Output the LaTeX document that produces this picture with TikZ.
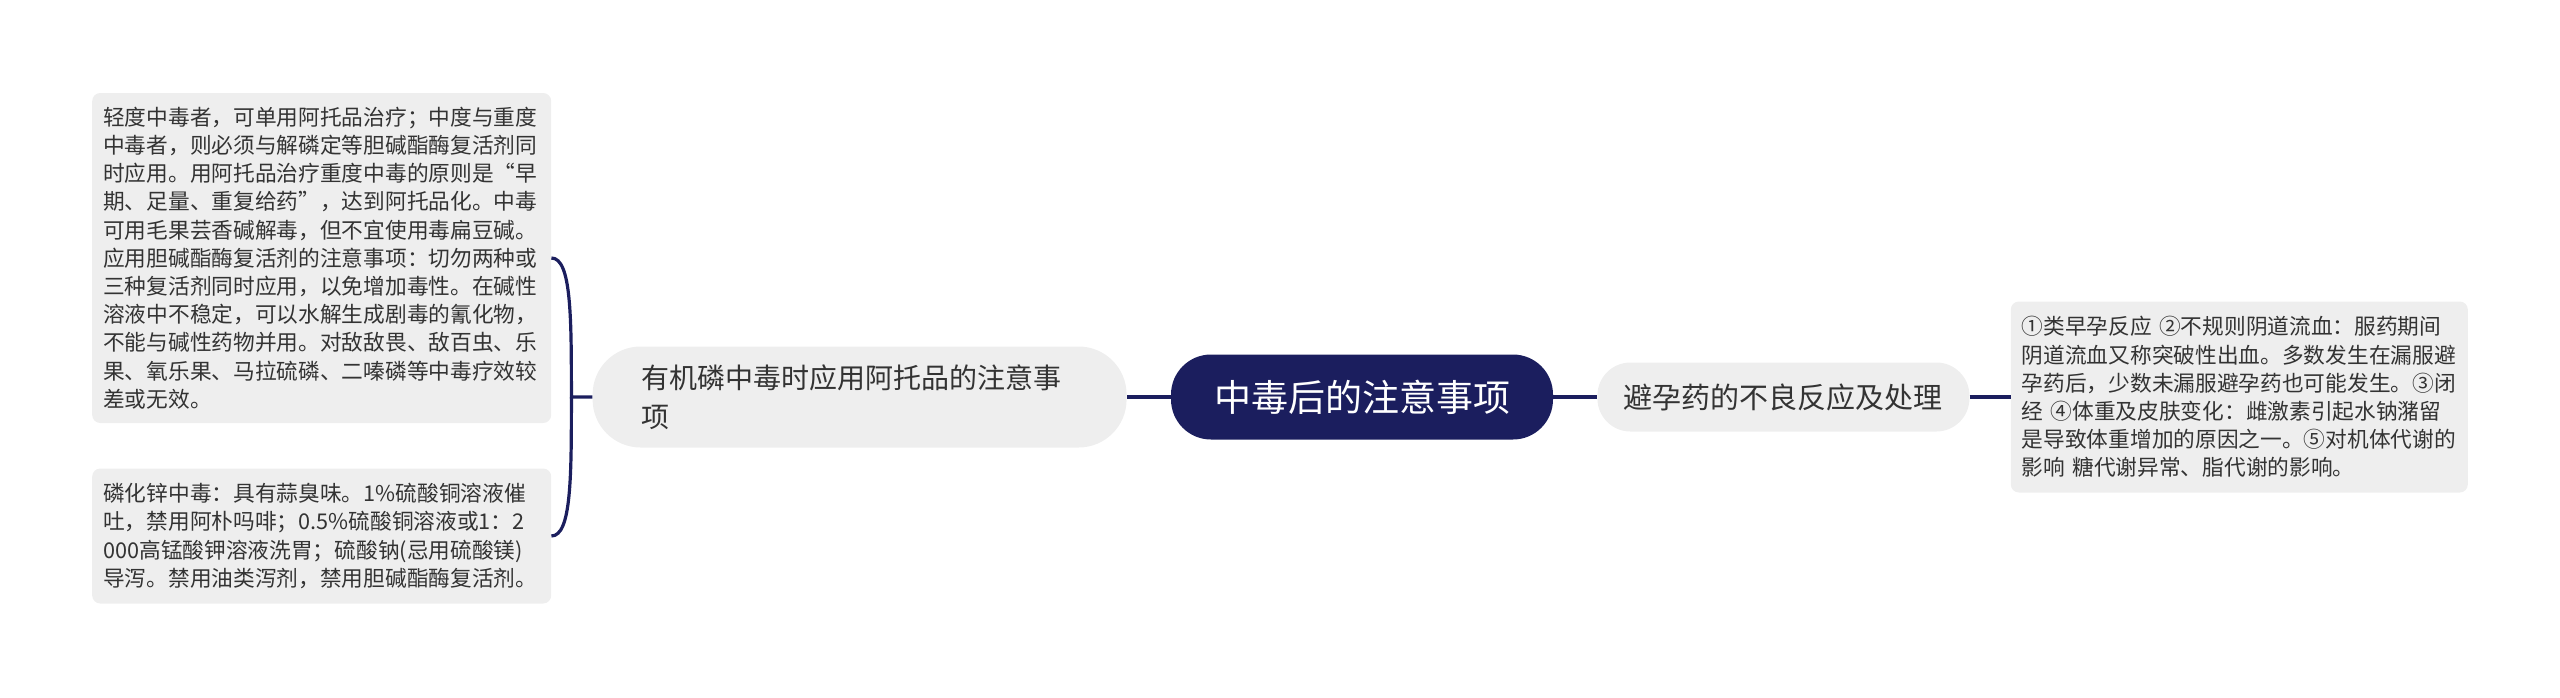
\documentclass[tikz,border=0pt]{standalone}
\usepackage{fontspec}
\setmainfont{Noto Sans CJK SC}
\usepackage{xcolor}
\usepackage{tikz}
\usetikzlibrary{positioning}
\definecolor{navy}{HTML}{1B1E5E}
\definecolor{boxgray}{HTML}{EEEEEE}
\definecolor{ink}{HTML}{333333}

\begin{document}
\begin{tikzpicture}[x=1pt, y=-1pt, node distance=44pt]
    \tikzstyle{topic} = [rectangle, rounded corners=40pt, minimum width=382pt, minimum height=85pt, inner sep=0pt, fill=navy, text=white, font=\fontsize{37pt}{44pt}\selectfont]
    \tikzstyle{branch} = [rectangle, fill=boxgray, text=ink, inner sep=0pt]
    \tikzstyle{leaf} = [rectangle, rounded corners=8pt, fill=boxgray, text=ink, align=left, inner xsep=11pt, inner ysep=11pt, font=\fontsize{21.7pt}{28.2pt}\selectfont]
    \tikzstyle{conn} = [draw=navy, line width=3.2pt]

    \useasboundingbox (0,0) rectangle (2560,697);

    \node (topic) [topic] at (1362,397) {中毒后的注意事项};

    \node (lb) [branch, left=of topic, rounded corners=48pt, minimum width=534pt, minimum height=101pt, text width=436pt, inner xsep=49pt, align=left, font=\fontsize{28pt}{39pt}\selectfont] {有机磷中毒时应用阿托品的注意事\\项};
    \node (rb) [branch, right=of topic, rounded corners=33pt, minimum width=372pt, minimum height=69pt, font=\fontsize{29pt}{36pt}\selectfont] {避孕药的不良反应及处理};

    \node (l1) [leaf, left=41pt of lb, yshift=139pt, text width=437pt, minimum height=330pt] {轻度中毒者，可单用阿托品治疗；中度与重度\\中毒者，则必须与解磷定等胆碱酯酶复活剂同\\时应用。用阿托品治疗重度中毒的原则是“早\\期、足量、重复给药”，达到阿托品化。中毒\\可用毛果芸香碱解毒，但不宜使用毒扁豆碱。\\应用胆碱酯酶复活剂的注意事项：切勿两种或\\三种复活剂同时应用，以免增加毒性。在碱性\\溶液中不稳定，可以水解生成剧毒的氰化物，\\不能与碱性药物并用。对敌敌畏、敌百虫、乐\\果、氧乐果、马拉硫磷、二嗪磷等中毒疗效较\\差或无效。};
    \node (l2) [leaf, left=41pt of lb, yshift=-139pt, text width=437pt, minimum height=135pt] {磷化锌中毒：具有蒜臭味。1\%硫酸铜溶液催\\吐，禁用阿朴吗啡；0.5\%硫酸铜溶液或1：2\\000高锰酸钾溶液洗胃；硫酸钠(忌用硫酸镁)\\导泻。禁用油类泻剂，禁用胆碱酯酶复活剂。};
    \node (r1) [leaf, right=41pt of rb, text width=435pt, minimum height=191pt] {①类早孕反应 ②不规则阴道流血：服药期间\\阴道流血又称突破性出血。多数发生在漏服避\\孕药后，少数未漏服避孕药也可能发生。③闭\\经 ④体重及皮肤变化：雌激素引起水钠潴留\\是导致体重增加的原因之一。⑤对机体代谢的\\影响 糖代谢异常、脂代谢的影响。};

    \draw [conn] (topic) -- (lb);
    \draw [conn] (topic) -- (rb);
    \draw [conn] (rb) -- (r1);
    \draw [conn] (lb.west) -- ++(-21,0) coordinate (lj) .. controls +(0,-80) and +(20,0) .. (l1.east);
    \draw [conn] (lj) .. controls +(0,80) and +(20,0) .. (l2.east);
\end{tikzpicture}
\end{document}
